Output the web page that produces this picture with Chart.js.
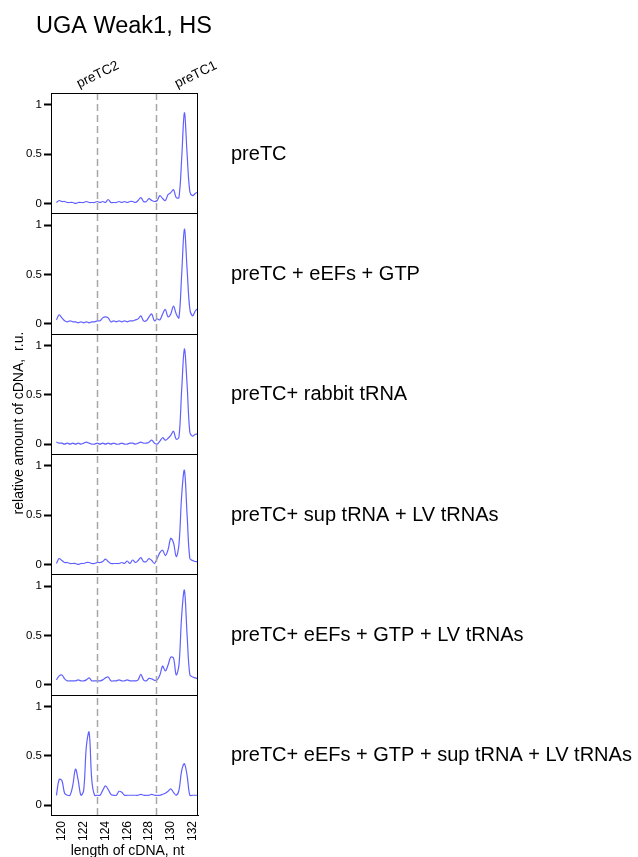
<!DOCTYPE html>
<html>
<head>
<meta charset="utf-8">
<script src="https://cdn.jsdelivr.net/npm/chart.js@4/dist/chart.umd.min.js"></script>
<style>
  html, body { margin: 0; padding: 0; background: #fff; }
  #wrap { position: relative; width: 638px; height: 857px; }
  canvas { position: absolute; left: 0; top: 0; }
</style>
</head>
<body>
<div id="wrap"><canvas id="traces" width="638" height="857"></canvas></div>
<script>
// cDNA length, nt
var lengths = [119.5, 119.75, 120, 120.25, 120.5, 120.75, 121, 121.25, 121.5, 121.75,
  122, 122.25, 122.5, 122.75, 123, 123.25, 123.5, 123.75, 124, 124.25,
  124.5, 124.75, 125, 125.25, 125.5, 125.75, 126, 126.25, 126.5, 126.75,
  127, 127.25, 127.5, 127.75, 128, 128.25, 128.5, 128.75, 129, 129.25,
  129.5, 129.75, 130, 130.25, 130.5, 130.75, 131, 131.25, 131.5, 131.75,
  132, 132.25, 132.5];

var panelNames = ['preTC', 'preTC + eEFs + GTP', 'preTC+ rabbit tRNA',
  'preTC+ sup tRNA + LV tRNAs', 'preTC+ eEFs + GTP + LV tRNAs',
  'preTC+ eEFs + GTP + sup tRNA + LV tRNAs'];

var preTC = [0.01, 0.03, 0.02, 0.02, 0.01, 0.01, 0.01, 0.0, 0.01, 0.01,
  0.01, 0.02, 0.01, 0.01, 0.01, 0.02, 0.01, 0.02, 0.01, 0.04,
  0.01, 0.01, 0.01, 0.02, 0.01, 0.02, 0.01, 0.02, 0.02, 0.01,
  0.03, 0.06, 0.02, 0.02, 0.05, 0.03, 0.02, 0.03, 0.08, 0.05,
  0.03, 0.09, 0.11, 0.14, 0.06, 0.06, 0.45, 0.92, 0.5, 0.12,
  0.08, 0.1, 0.12];
var preTCeEFs = [0.04, 0.09, 0.06, 0.03, 0.02, 0.03, 0.02, 0.02, 0.01, 0.02,
  0.01, 0.02, 0.01, 0.02, 0.02, 0.03, 0.03, 0.06, 0.07, 0.06,
  0.02, 0.03, 0.02, 0.03, 0.02, 0.03, 0.02, 0.03, 0.03, 0.04,
  0.05, 0.08, 0.03, 0.03, 0.07, 0.1, 0.03, 0.05, 0.04, 0.1,
  0.145, 0.07, 0.1, 0.18, 0.1, 0.06, 0.5, 0.96, 0.55, 0.15,
  0.08, 0.13, 0.155];
var preTCrabbit = [0.02, 0.01, 0.01, 0.0, 0.01, 0.0, 0.01, 0.0, 0.01, 0.0,
  0.01, 0.02, 0.01, 0.0, 0.0, 0.01, 0.0, 0.01, 0.0, 0.01,
  0.0, 0.01, 0.0, 0.0, 0.01, 0.0, 0.0, 0.01, 0.01, 0.0,
  0.01, 0.02, 0.01, 0.01, 0.02, 0.04, 0.01, 0.0, 0.03, 0.065,
  0.04, 0.06, 0.09, 0.13, 0.05, 0.07, 0.55, 0.965, 0.6, 0.12,
  0.08, 0.1, 0.1];
var preTCsupLV = [0.01, 0.06, 0.04, 0.02, 0.02, 0.01, 0.01, 0.01, 0.0, 0.01,
  0.01, 0.02, 0.02, 0.01, 0.01, 0.02, 0.02, 0.03, 0.055, 0.03,
  0.01, 0.01, 0.01, 0.01, 0.02, 0.01, 0.035, 0.01, 0.045, 0.02,
  0.04, 0.07, 0.03, 0.03, 0.06, 0.04, 0.01, 0.06, 0.12, 0.145,
  0.09, 0.15, 0.265, 0.22, 0.08, 0.2, 0.7, 0.955, 0.5, 0.06,
  0.04, 0.03, 0.03];
var preTCeEFsLV = [0.05, 0.09, 0.1, 0.06, 0.04, 0.04, 0.04, 0.04, 0.05, 0.04,
  0.04, 0.05, 0.07, 0.04, 0.04, 0.04, 0.04, 0.05, 0.07, 0.08,
  0.04, 0.04, 0.04, 0.05, 0.04, 0.04, 0.05, 0.04, 0.04, 0.04,
  0.05, 0.105, 0.05, 0.04, 0.065, 0.06, 0.045, 0.05, 0.1, 0.19,
  0.14, 0.2, 0.28, 0.27, 0.1, 0.2, 0.7, 0.96, 0.5, 0.1,
  0.08, 0.07, 0.06];
var preTCeEFsSupLV = [0.1, 0.26, 0.25, 0.12, 0.1, 0.1, 0.2, 0.365, 0.25, 0.1,
  0.15, 0.6, 0.74, 0.25, 0.1, 0.1, 0.1, 0.15, 0.195, 0.16,
  0.11, 0.1, 0.1, 0.14, 0.13, 0.1, 0.1, 0.1, 0.1, 0.1,
  0.1, 0.11, 0.1, 0.1, 0.1, 0.11, 0.1, 0.1, 0.1, 0.11,
  0.12, 0.14, 0.165, 0.13, 0.1, 0.15, 0.35, 0.42, 0.3, 0.1,
  0.1, 0.1, 0.1];

var panelValues = [preTC, preTCeEFs, preTCrabbit, preTCsupLV, preTCeEFsLV, preTCeEFsSupLV];
var xTicks = [120, 122, 124, 126, 128, 130, 132];
var yTicks = [0, 0.5, 1];
var markerNames = ['preTC2', 'preTC1'];
var markerLengths = [123.2, 128.6];

var FONT = 'Arial, "Liberation Sans", sans-serif';

// datasets, one per panel, each on its own stacked y axis
var datasets = panelValues.map(function (vals, i) {
  return {
    label: panelNames[i],
    data: vals.map(function (v, j) { return { x: lengths[j], y: v }; }),
    yAxisID: 'y' + i,
    borderColor: 'rgb(96, 96, 255)',
    borderWidth: 1.2,
    pointRadius: 0,
    tension: 0.35,
    fill: false
  };
});

var scales = {
  x: {
    type: 'linear',
    position: 'bottom',
    min: 119,
    max: 132.5,
    afterBuildTicks: function (s) { s.ticks = xTicks.map(function (v) { return { value: v }; }); },
    afterFit: function (s) { s.height = 42; },
    grid: { drawOnChartArea: false, drawTicks: false },
    border: { color: '#000', width: 1 },
    ticks: {
      autoSkip: false, minRotation: 90, maxRotation: 90, padding: 6,
      color: '#000', font: { family: FONT, size: 12 }
    }
  }
};
// panel 0 is the top one
for (var i = 5; i >= 0; i--) {
  scales['y' + i] = {
    type: 'linear',
    position: 'left',
    stack: 'panels',
    stackWeight: 1,
    min: -0.1,
    max: 1.12,
    afterBuildTicks: function (s) { s.ticks = yTicks.map(function (v) { return { value: v }; }); },
    afterFit: function (s) { s.width = 51; },
    grid: { drawOnChartArea: false, tickLength: 7, tickColor: '#000', tickWidth: 2 },
    border: { color: '#000', width: 1 },
    ticks: {
      padding: 2, color: '#000', font: { family: FONT, size: 11.5 },
      callback: function (v) { return String(v); }
    }
  };
}

// frame, dashed markers and all the free text
var decorations = {
  id: 'decorations',
  afterDatasetsDraw: function (chart) {
    var ctx = chart.ctx;
    var area = chart.chartArea;
    var xs = chart.scales.x;
    ctx.save();

    // dashed marker lines
    ctx.strokeStyle = '#a6a6a6';
    ctx.lineWidth = 1.5;
    ctx.setLineDash([7, 4]);
    markerLengths.forEach(function (v) {
      var px = Math.round(xs.getPixelForValue(v)) + 0.5;
      ctx.beginPath();
      ctx.moveTo(px, area.top);
      ctx.lineTo(px, area.bottom);
      ctx.stroke();
    });
    ctx.setLineDash([]);

    // panel boxes
    ctx.strokeStyle = '#000';
    ctx.lineWidth = 1;
    for (var i = 0; i < 6; i++) {
      var ys = chart.scales['y' + i];
      var top = Math.round(ys.top) + 0.5;
      ctx.beginPath();
      ctx.moveTo(area.left, top);
      ctx.lineTo(area.right, top);
      ctx.stroke();
    }
    var r = Math.round(area.right) - 0.5;
    ctx.beginPath();
    ctx.moveTo(r, area.top);
    ctx.lineTo(r, area.bottom);
    ctx.stroke();

    ctx.fillStyle = '#000';

    // panel names on the right
    ctx.font = '20px ' + FONT;
    ctx.textAlign = 'left';
    ctx.textBaseline = 'middle';
    for (var k = 0; k < 6; k++) {
      var sc = chart.scales['y' + k];
      ctx.fillText(panelNames[k], area.right + 33, (sc.top + sc.bottom) / 2 + 1);
    }

    // title
    ctx.font = '23.5px ' + FONT;
    ctx.textBaseline = 'alphabetic';
    ctx.fillText('UGA Weak1, HS', 36, 33);

    // marker names, slanted
    ctx.font = '13.5px ' + FONT;
    var labelAt = [121.6, 130.6];
    markerNames.forEach(function (name, j) {
      ctx.save();
      ctx.translate(xs.getPixelForValue(labelAt[j]), area.top - 5);
      ctx.rotate(-26 * Math.PI / 180);
      ctx.fillText(name, 0, 0);
      ctx.restore();
    });

    // axis titles
    ctx.textAlign = 'center';
    ctx.font = '14px ' + FONT;
    ctx.fillText('length of cDNA, nt', 127.5, 855);
    ctx.save();
    ctx.translate(23, 423);
    ctx.rotate(-Math.PI / 2);
    ctx.fillText('relative amount of cDNA,  r.u.', 0, 0);
    ctx.restore();

    ctx.restore();
  }
};

new Chart(document.getElementById('traces'), {
  type: 'line',
  data: { datasets: datasets },
  options: {
    responsive: false,
    animation: false,
    events: [],
    layout: { padding: { top: 93, left: 0, right: 440, bottom: 0 } },
    plugins: { legend: { display: false }, tooltip: { enabled: false }, title: { display: false } },
    scales: scales
  },
  plugins: [decorations]
});
</script>
</body>
</html>
